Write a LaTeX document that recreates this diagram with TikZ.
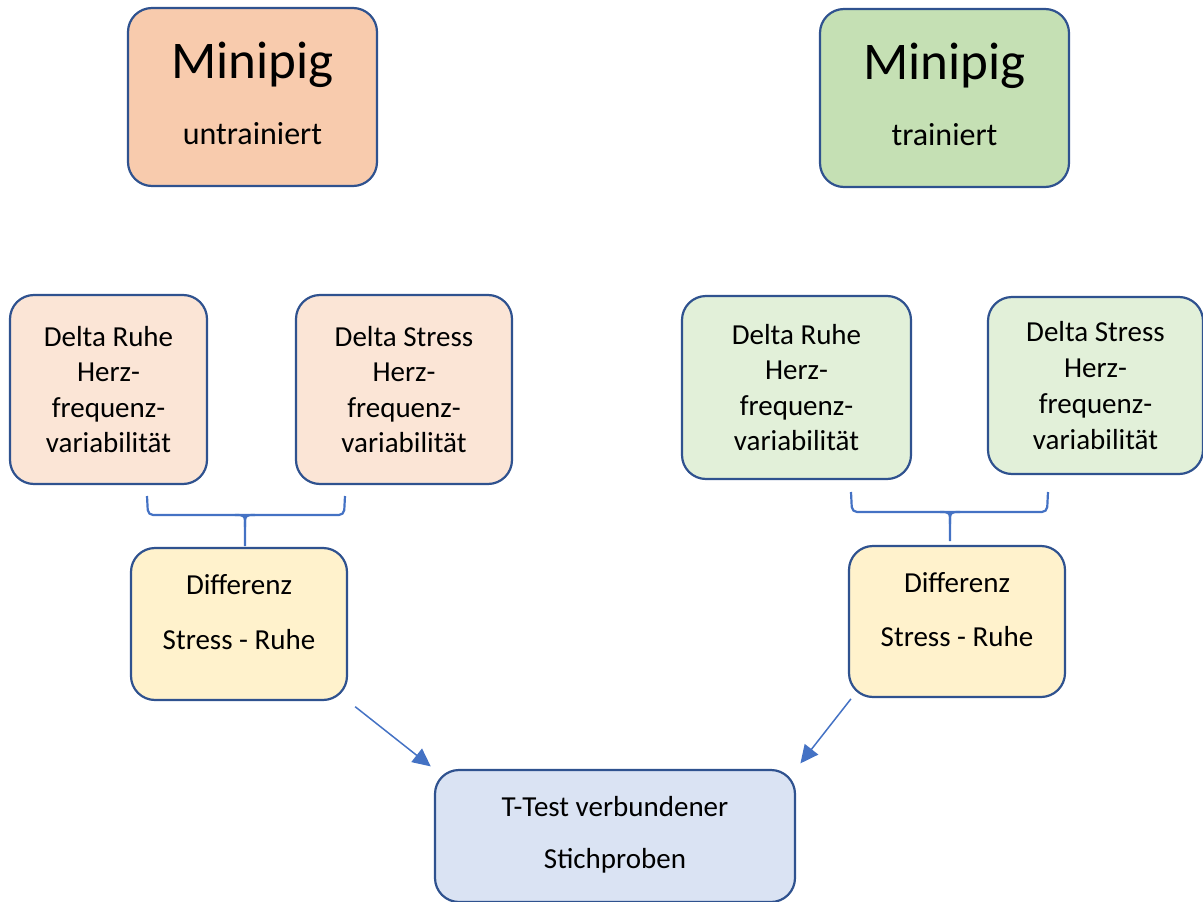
\documentclass[tikz,border=0pt]{standalone}
\usepackage{fontspec}
\setmainfont{Carlito}
\usetikzlibrary{arrows.meta}
\definecolor{rim}{HTML}{2F528F}
\definecolor{link}{HTML}{4472C4}
\definecolor{peach}{HTML}{F8CBAD}
\definecolor{peachlt}{HTML}{FBE5D6}
\definecolor{leaf}{HTML}{C5E0B4}
\definecolor{leaflt}{HTML}{E2F0D9}
\definecolor{cream}{HTML}{FFF2CC}
\definecolor{sky}{HTML}{DAE3F3}
\tikzset{
  box/.style={draw=rim, line width=2.2pt, rounded corners=24pt, align=center, inner sep=0pt, font=\fontsize{29}{35.5}\selectfont},
  head/.style={box, minimum width=249pt, minimum height=178pt, text depth=7pt},
  arr/.style={-{Triangle[length=18pt,width=17pt]}, line width=1.5pt, draw=link},
  brc/.style={draw=link, line width=2.2pt, rounded corners=5pt},
}
\newcommand{\bigname}{\fontsize{53}{60}\selectfont}
\newcommand{\subname}{\fontsize{32}{38}\selectfont}
\begin{document}
\begin{tikzpicture}[x=1pt,y=-1pt]
\useasboundingbox (0,0) rectangle (1203,902);
\node[head, fill=peach] (mu) at (252.5,97) {{\bigname Minipig}\\[30pt]{\subname untrainiert}};
\node[head, fill=leaf] (mt) at (944.5,98) {{\bigname Minipig}\\[30pt]{\subname trainiert}};
\node[box, fill=peachlt, minimum width=197pt, minimum height=189pt] (dru) at (108.5,389.5) {Delta Ruhe\\Herz-\\frequenz-\\variabilität};
\node[box, fill=peachlt, minimum width=216pt, minimum height=189pt] (dsu) at (404,389.5) {Delta Stress\\Herz-\\frequenz-\\variabilität};
\node[box, fill=leaflt, minimum width=229pt, minimum height=183pt] (drt) at (796.5,387.5) {Delta Ruhe\\Herz-\\frequenz-\\variabilität};
\node[box, fill=leaflt, minimum width=215pt, minimum height=177pt, font=\fontsize{29}{36}\selectfont] (dst) at (1095.5,385.5) {Delta Stress\\Herz-\\frequenz-\\variabilität};
\node[box, fill=cream, minimum width=216pt, minimum height=152pt, text depth=24pt] (du) at (239,624) {Differenz\\[20pt]Stress - Ruhe};
\node[box, fill=cream, minimum width=216pt, minimum height=151pt, text depth=24pt] (dt) at (957,621.5) {Differenz\\[18pt]Stress - Ruhe};
\node[box, fill=sky, minimum width=360pt, minimum height=132pt, text depth=7pt] (tt) at (615,836) {T-Test verbundener\\[17pt]Stichproben};
% braces
\draw[brc] (147,496) -- (148,515) -- (344,515) -- (345,496);
\draw[draw=link, line width=2.2pt] (235,515) .. controls (245,515) .. (245,527) -- (245,546);
\draw[draw=link, line width=2.2pt] (255,515) .. controls (245,515) .. (245,527);
\draw[brc] (851,492) -- (852,512) -- (1047,512) -- (1048,492);
\draw[draw=link, line width=2.2pt] (940,512) .. controls (950,512) .. (950,524) -- (950,541);
\draw[draw=link, line width=2.2pt] (960,512) .. controls (950,512) .. (950,524);
% arrows
\draw[arr, shorten <=9pt, shorten >=4pt] (du.south east) -- (tt.north west);
\draw[arr, shorten <=1pt, shorten >=7pt] (dt.216) -- (tt.north east);
\end{tikzpicture}
\end{document}
